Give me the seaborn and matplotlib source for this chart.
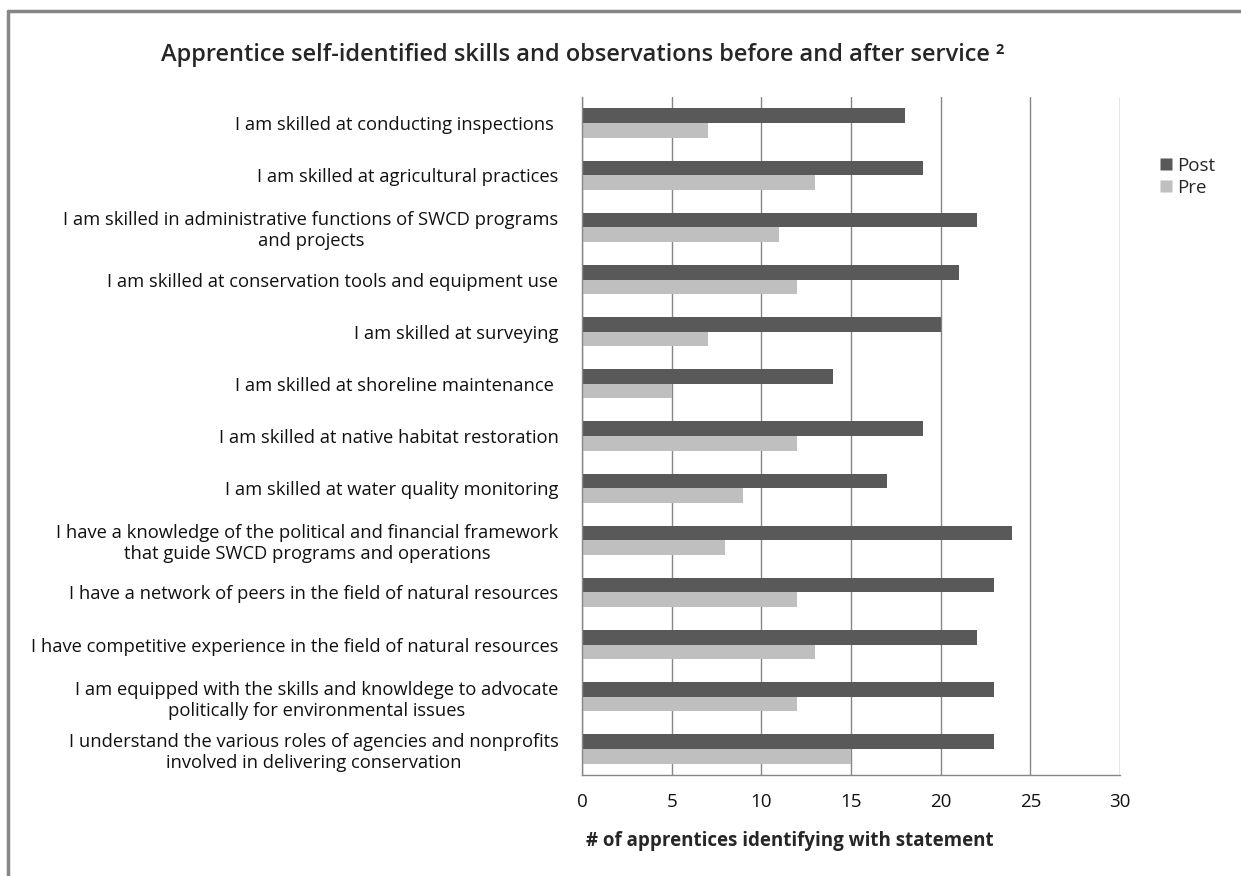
import matplotlib
matplotlib.use("Agg")
import matplotlib.pyplot as plt
import seaborn as sns
import pandas as pd
from matplotlib.lines import Line2D

# statements, top to bottom
statements = [
    "I am skilled at conducting inspections ",
    "I am skilled at agricultural practices",
    "I am skilled in administrative functions of SWCD programs\nand projects",
    "I am skilled at conservation tools and equipment use",
    "I am skilled at surveying",
    "I am skilled at shoreline maintenance ",
    "I am skilled at native habitat restoration",
    "I am skilled at water quality monitoring",
    "I have a knowledge of the political and financial framework\nthat guide SWCD programs and operations",
    "I have a network of peers in the field of natural resources",
    "I have competitive experience in the field of natural resources",
    "I am equipped with the skills and knowldege to advocate\npolitically for environmental issues",
    "I understand the various roles of agencies and nonprofits\ninvolved in delivering conservation",
]
post = [18, 19, 22, 21, 20, 14, 19, 17, 24, 23, 22, 23, 23]
pre = [7, 13, 11, 12, 7, 5, 12, 9, 8, 12, 13, 12, 15]
series = ["Post", "Pre"]
x_ticks = [0, 5, 10, 15, 20, 25, 30]

df = pd.DataFrame({"Statement": statements * 2,
                   "Count": post + pre,
                   "When": ["Post"] * len(post) + ["Pre"] * len(pre)})

sns.set_style("white")
plt.rcParams["font.family"] = ["Open Sans", "DejaVu Sans"]

fig = plt.figure(figsize=(12.41, 8.76), dpi=100)
ax = fig.add_axes([582 / 1241, 1 - 775 / 876, 538 / 1241, 678 / 876])

palette = {"Post": "#595959", "Pre": "#bfbfbf"}
sns.barplot(data=df, y="Statement", x="Count", hue="When", hue_order=series,
            order=statements, palette=palette, width=0.56, ax=ax,
            saturation=1, legend=False, edgecolor="none")

# axes styling
ax.set_xlim(0, 30)
ax.set_ylim(len(statements) - 0.5, -0.5)
ax.set_xticks(x_ticks)
ax.set_xticklabels([str(t) for t in x_ticks], fontsize=13.5, color="#111111")
ax.grid(axis="x", color="#868686", linewidth=1)
ax.set_axisbelow(True)
for s in ["top", "right"]:
    ax.spines[s].set_visible(False)
for s in ["left", "bottom"]:
    ax.spines[s].set_color("#868686")
    ax.spines[s].set_linewidth(1)

ax.set_yticks(range(len(statements)))
ax.set_yticklabels(statements, fontsize=13.2, multialignment="center", color="#111111")
ax.tick_params(axis="y", which="major", length=0, pad=17)
ax.set_yticks([i - 0.5 for i in range(len(statements) + 1)], minor=True)
ax.tick_params(axis="y", which="minor", length=5, color="#868686", direction="out")
ax.tick_params(axis="x", which="major", length=5, color="#868686", direction="out", pad=8)

ax.set_ylabel("")
ax.set_xlabel("# of apprentices identifying with statement", fontsize=13.5, fontweight="bold")
ax.xaxis.set_label_coords(0.387, -0.083)

fig.text(583 / 1241, 1 - 55 / 876, "Apprentice self-identified skills and observations before and after service \u00b2",
         ha="center", va="center", fontsize=17, fontweight="semibold")

handles = [Line2D([], [], marker="s", linestyle="none", markersize=9,
                  markerfacecolor=palette[s], markeredgecolor="none") for s in series]
fig.legend(handles, series, loc="upper left", bbox_to_anchor=(1138 / 1241, 1 - 140 / 876),
           frameon=False, fontsize=13.5, handletextpad=0.0, labelspacing=0.2, handlelength=1.2)

# outer chart frame (top and left edges)
fig.add_artist(Line2D([8 / 1241, 1], [1 - 11 / 876, 1 - 11 / 876], color="#868686", linewidth=2.5,
                      transform=fig.transFigure))
fig.add_artist(Line2D([8 / 1241, 8 / 1241], [0, 1 - 11 / 876], color="#868686", linewidth=2.5,
                      transform=fig.transFigure))

fig.savefig("out.png", dpi=100)
